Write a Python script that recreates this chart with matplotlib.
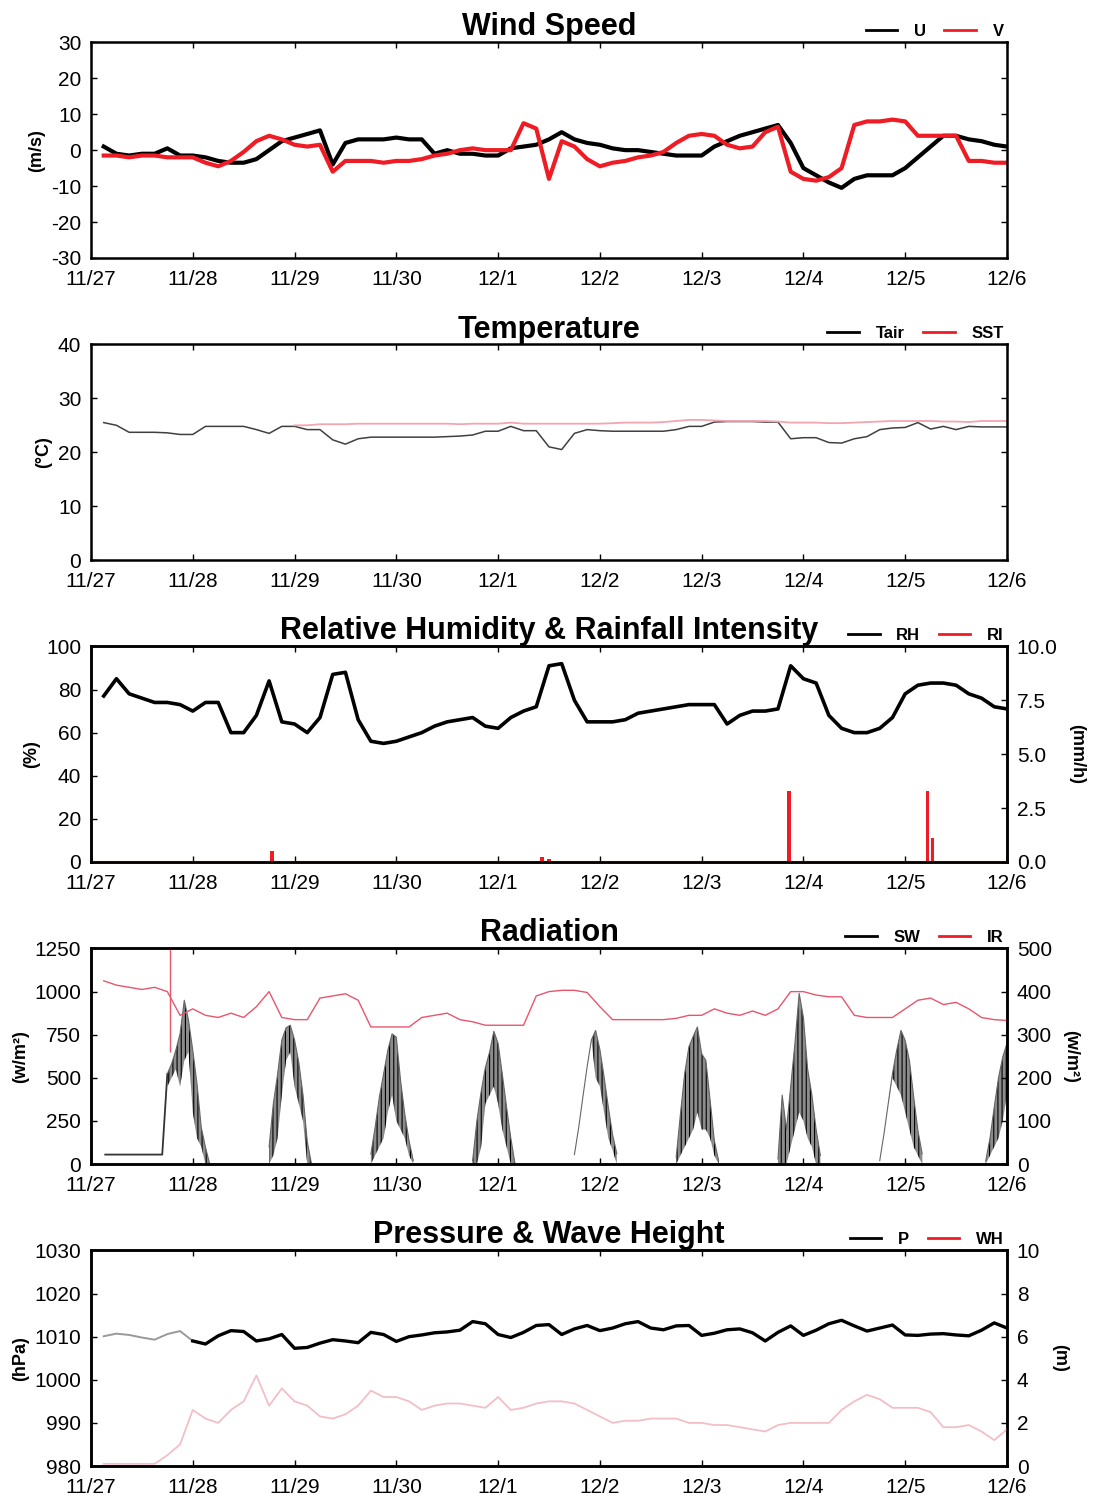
import numpy as np
import matplotlib
matplotlib.use("Agg")
import matplotlib.pyplot as plt
from matplotlib.lines import Line2D

plt.rcParams['font.family'] = ['Liberation Sans', 'DejaVu Sans']
plt.rcParams['axes.unicode_minus'] = False
plt.rcParams['hatch.linewidth'] = 0.8

# ---- data (3-hourly samples, days after 11/27 00:00) ----
date_labels = ['11/27', '11/28', '11/29', '11/30', '12/1',
               '12/2', '12/3', '12/4', '12/5', '12/6']
t3 = np.arange(1, 73) * 0.125

u = [1, -1, -1.5, -1, -1, 0.5, -1.5, -1.5,
     -2, -3, -3.5, -3.5, -2.5, 0, 2.5, 3.5,
     4.5, 5.5, -4, 2, 3, 3, 3, 3.5,
     3, 3, -1, 0, -1, -1, -1.5, -1.5,
     0.5, 1, 1.5, 3, 5, 3, 2, 1.5,
     0.5, 0, 0, -0.5, -1, -1.5, -1.5, -1.5,
     1, 2.5, 4, 5, 6, 7, 2, -5,
     -7, -9, -10.5, -8, -7, -7, -7, -5,
     -2, 1, 4, 4, 3, 2.5, 1.5, 1]
v = [-1.5, -1.5, -2, -1.5, -1.5, -2, -2, -2,
     -3.5, -4.5, -3, -0.5, 2.5, 4, 3, 1.5,
     1, 1.5, -6, -3, -3, -3, -3.5, -3,
     -3, -2.5, -1.5, -1, 0, 0.5, 0, 0,
     0, 7.5, 6, -8, 2.5, 1, -2.5, -4.5,
     -3.5, -3, -2, -1.5, -0.5, 2, 4, 4.5,
     4, 1.5, 0.5, 1, 5, 6.5, -6, -8,
     -8.5, -7.5, -5, 7, 8, 8, 8.5, 8,
     4, 4, 4, 4, -3, -3, -3.5, -3.5]

tair = [25.5, 25, 23.7, 23.7, 23.7, 23.6, 23.3, 23.3,
        24.8, 24.8, 24.8, 24.8, 24.2, 23.5, 24.8, 24.8,
        24.2, 24.2, 22.3, 21.5, 22.5, 22.8, 22.8, 22.8,
        22.8, 22.8, 22.8, 22.9, 23, 23.2, 23.9, 23.9,
        24.8, 24, 24, 21, 20.5, 23.5, 24.2, 24,
        23.9, 23.9, 23.9, 23.9, 23.9, 24.2, 24.8, 24.8,
        25.6, 25.7, 25.7, 25.7, 25.6, 25.6, 22.5, 22.7,
        22.7, 21.8, 21.7, 22.5, 22.9, 24.2, 24.5, 24.6,
        25.5, 24.3, 24.8, 24.2, 24.8, 24.7, 24.7, 24.7]
nan = np.nan
sst = [nan, nan, nan, nan, nan, nan, nan, nan,
       nan, nan, nan, nan, nan, nan, nan, 25,
       25, 25.2, 25.2, 25.2, 25.3, 25.3, 25.3, 25.3,
       25.3, 25.3, 25.3, 25.3, 25.2, 25.3, 25.3, 25.3,
       25.5, 25.3, 25.3, 25.3, 25.3, 25.3, 25.3, 25.3,
       25.4, 25.5, 25.5, 25.5, 25.6, 25.8, 26, 26,
       25.9, 25.8, 25.8, 25.8, 25.8, 25.7, 25.5, 25.5,
       25.5, 25.4, 25.4, 25.5, 25.6, 25.7, 25.8, 25.8,
       25.8, 25.8, 25.7, 25.7, 25.6, 25.8, 25.8, 25.8]

rh = [77, 85, 78, 76, 74, 74, 73, 70,
      74, 74, 60, 60, 68, 84, 65, 64,
      60, 67, 87, 88, 66, 56, 55, 56,
      58, 60, 63, 65, 66, 67, 63, 62,
      67, 70, 72, 91, 92, 75, 65, 65,
      65, 66, 69, 70, 71, 72, 73, 73,
      73, 64, 68, 70, 70, 71, 91, 85,
      83, 68, 62, 60, 60, 62, 67, 78,
      82, 83, 83, 82, 78, 76, 72, 71]
ri_day = [1.78, 4.43, 4.5, 6.86, 8.22, 8.27]
ri = [0.5, 0.25, 0.15, 3.3, 3.3, 1.1]

ir = [425, 415, 410, 405, 410, 400, 345, 360,
      345, 340, 350, 340, 365, 400, 340, 335,
      335, 385, 390, 395, 380, 318, 318, 318,
      318, 340, 345, 350, 335, 330, 322, 322,
      322, 322, 390, 400, 403, 403, 398, 365,
      335, 335, 335, 335, 335, 338, 345, 345,
      360, 350, 345, 355, 345, 360, 400, 400,
      392, 388, 388, 345, 340, 340, 340, 360,
      380, 385, 370, 375, 360, 340, 335, 333]
ir_spike_day = [0.78]
ir_spike = [560]

# shortwave: one daylight bell per date tick, hourly offsets -6h..+4h
sw_bell_day = [1, 2, 3, 4, 5, 6, 7, 8, 9]
sw_offset_h = [-6, -5, -4, -3, -2, -1, 0, 1, 2, 3, 4]
sw_env = [[523, 580, 660, 755, 950, 833, 660, 465, 213, 97, 0],
          [100, 350, 520, 720, 790, 805, 720, 590, 400, 130, 0],
          [58, 213, 388, 523, 660, 755, 736, 485, 290, 135, 20],
          [20, 250, 420, 560, 650, 770, 700, 520, 330, 150, 0],
          [55, 210, 390, 565, 720, 775, 665, 505, 330, 170, 60],
          [40, 290, 525, 680, 740, 795, 640, 600, 370, 135, 20],
          [30, 400, 200, 450, 700, 990, 850, 550, 400, 200, 50],
          [20, 175, 350, 525, 660, 775, 717, 600, 390, 195, 60],
          [nan, 20, 150, 330, 500, 620, 700, nan, nan, nan, nan]]
sw_low = [[450, 500, 550, 450, 600, 650, 300, 150, 100, 0, 0],
          [0, 50, 150, 400, 600, 650, 450, 350, 250, 0, 0],
          [0, 50, 100, 150, 300, 400, 250, 200, 150, 50, 0],
          [0, 0, 100, 350, 400, 450, 350, 200, 100, 0, 0],
          [55, 210, 390, 565, 720, 500, 450, 300, 150, 80, 0],
          [0, 50, 100, 150, 200, 300, 200, 200, 150, 50, 0],
          [0, 0, 0, 100, 200, 300, 250, 150, 100, 0, 0],
          [20, 175, 350, 500, 450, 400, 300, 200, 100, 50, 0],
          [nan, 0, 50, 100, 150, 250, 400, nan, nan, nan, nan]]
sw_pre_day = [0.14, 0.70, 0.75]
sw_pre = [55, 55, 523]

p = [1010.1, 1010.7, 1010.4, 1009.8, 1009.3, 1010.6, 1011.3, 1009,
     1008.3, 1010.2, 1011.4, 1011.2, 1009, 1009.5, 1010.5, 1007.3,
     1007.5, 1008.5, 1009.3, 1009, 1008.6, 1011, 1010.5, 1008.9,
     1010, 1010.4, 1010.9, 1011.1, 1011.5, 1013.5, 1013, 1010.5,
     1009.8, 1011, 1012.6, 1012.8, 1010.5, 1011.8, 1012.6, 1011.4,
     1012, 1013, 1013.5, 1012, 1011.6, 1012.5, 1012.6, 1010.3,
     1010.8, 1011.6, 1011.8, 1010.9, 1009, 1011, 1012.5, 1010.3,
     1011.5, 1013, 1013.8, 1012.5, 1011.3, 1012, 1012.7, 1010.4,
     1010.3, 1010.6, 1010.7, 1010.4, 1010.2, 1011.5, 1013.2, 1012]
wh = [0.1, 0.1, 0.1, 0.1, 0.1, 0.5, 1.0, 2.6,
      2.2, 2.0, 2.6, 3.0, 4.2, 2.8, 3.6, 3.0,
      2.8, 2.3, 2.2, 2.4, 2.8, 3.5, 3.2, 3.2,
      3.0, 2.6, 2.8, 2.9, 2.9, 2.8, 2.7, 3.2,
      2.6, 2.7, 2.9, 3.0, 3.0, 2.9, 2.6, 2.3,
      2.0, 2.1, 2.1, 2.2, 2.2, 2.2, 2.0, 2.0,
      1.9, 1.9, 1.8, 1.7, 1.6, 1.9, 2.0, 2.0,
      2.0, 2.0, 2.6, 3.0, 3.3, 3.1, 2.7, 2.7,
      2.7, 2.5, 1.8, 1.8, 1.9, 1.6, 1.2, 1.7]

RED = '#ee1c24'
TICK_FS = 15

fig = plt.figure(figsize=(10.95, 14.97), dpi=100)
bottoms = [0.8277, 0.6259, 0.4242, 0.2224, 0.0207]
axes = [fig.add_axes([0.0831, b, 0.8365, 0.1440]) for b in bottoms]


def style(ax, twin=False):
    for s in ax.spines.values():
        s.set_linewidth(1.8)
    ax.set_xlim(0, 9)
    ax.set_xticks(range(10))
    ax.set_xticklabels(date_labels)
    ax.tick_params(axis='both', direction='in', length=4, width=1,
                   labelsize=TICK_FS, top=True, right=not twin)
    ax.tick_params(axis='x', pad=8.5)
    ax.tick_params(axis='y', pad=7)


def legend(ax, names):
    h = [Line2D([], [], color='black', lw=2), Line2D([], [], color=RED, lw=2)]
    ax.legend(h, names, loc='lower right', bbox_to_anchor=(1.0, 1.0), ncol=2,
              frameon=False, prop={'weight': 'bold', 'size': 12},
              handlelength=1.9, handletextpad=1.0, columnspacing=1.1,
              borderaxespad=0.1, borderpad=0.1)


def title(ax, txt):
    ax.set_title(txt, fontsize=22, fontweight='bold', pad=5)


def ylab(ax, txt, right=False):
    if right:
        ax.set_ylabel(txt, fontsize=13, fontweight='bold', rotation=270,
                      labelpad=20)
    else:
        ax.set_ylabel(txt, fontsize=13, fontweight='bold', labelpad=4)


# Wind speed
ax = axes[0]
ax.plot(t3, u, color='black', lw=3.0)
ax.plot(t3, v, color=RED, lw=3.0)
ax.set_ylim(-30, 30)
ax.set_yticks(range(-30, 31, 10))
style(ax)
title(ax, 'Wind Speed')
legend(ax, ['U', 'V'])
ylab(ax, '(m/s)')

# Temperature
ax = axes[1]
ax.plot(t3, tair, color='0.25', lw=1.1)
ax.plot(t3, sst, color='#f3a5b0', lw=1.3)
ax.set_ylim(0, 40)
ax.set_yticks(range(0, 41, 10))
style(ax)
title(ax, 'Temperature')
legend(ax, ['Tair', 'SST'])
ylab(ax, '(\u00b0C)')

# Relative humidity & rainfall intensity
ax = axes[2]
ax.plot(t3, rh, color='black', lw=2.6)
ax.set_ylim(0, 100)
ax.set_yticks(range(0, 101, 20))
style(ax, twin=True)
ax2 = ax.twinx()
ax2.bar(ri_day, ri, width=0.035, color=RED)
ax2.axhline(0, color=RED, lw=1.5)
ax2.set_ylim(0, 10)
ax2.set_yticks([0, 2.5, 5, 7.5, 10])
ax2.set_yticklabels(['0.0', '2.5', '5.0', '7.5', '10.0'])
style(ax2, twin=True)
ax2.tick_params(axis='y', right=True)
title(ax, 'Relative Humidity & Rainfall Intensity')
legend(ax2, ['RH', 'RI'])
ylab(ax, '(%)')
ylab(ax2, '(mm/h)', right=True)

# Radiation
ax = axes[3]
ax.plot(sw_pre_day, sw_pre, color='0.2', lw=1.3)
for d, env, low in zip(sw_bell_day, sw_env, sw_low):
    tt = d + np.array(sw_offset_h) / 24.0
    ax.fill_between(tt, low, env, facecolor='0.55', edgecolor='black',
                    hatch='||||', lw=0)
    ax.plot(tt, env, color='0.4', lw=0.8)
ax.set_ylim(0, 1250)
ax.set_yticks(range(0, 1251, 250))
style(ax, twin=True)
ax2 = ax.twinx()
ax2.plot(t3, ir, color='#e8566e', lw=1.0)
ax2.vlines(ir_spike_day, 260, ir_spike, color='#e8566e', lw=1.0)
ax2.set_ylim(0, 500)
ax2.set_yticks(range(0, 501, 100))
style(ax2, twin=True)
ax2.tick_params(axis='y', right=True)
title(ax, 'Radiation')
legend(ax2, ['SW', 'IR'])
ylab(ax, '(w/m\u00b2)')
ylab(ax2, '(w/m\u00b2)', right=True)

# Pressure & wave height
ax = axes[4]
ax.plot(t3[:8], p[:8], color='0.6', lw=1.4)
ax.plot(t3[7:], p[7:], color='black', lw=2.4)
ax.set_ylim(980, 1030)
ax.set_yticks(range(980, 1031, 10))
style(ax, twin=True)
ax2 = ax.twinx()
ax2.plot(t3, wh, color='#f2bfc7', lw=1.3)
ax2.set_ylim(0, 10)
ax2.set_yticks(range(0, 11, 2))
style(ax2, twin=True)
ax2.tick_params(axis='y', right=True)
title(ax, 'Pressure & Wave Height')
legend(ax2, ['P', 'WH'])
ylab(ax, '(hPa)')
ylab(ax2, '(m)', right=True)

fig.savefig('out.png', dpi=100)
